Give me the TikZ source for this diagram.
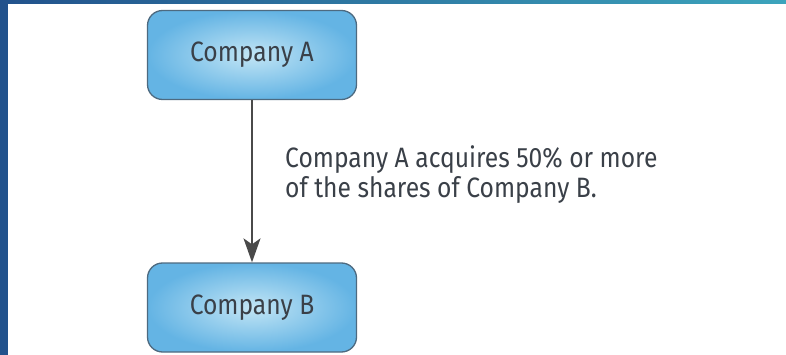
\documentclass[tikz,border=0pt]{standalone}
\usepackage{fontspec}
\setmainfont{Fira Sans}[FakeStretch=0.88]
\usetikzlibrary{arrows.meta}

\definecolor{barleft}{HTML}{22528C}
\definecolor{barright}{HTML}{3CA4BC}
\definecolor{boxouter}{HTML}{64B4E4}
\definecolor{boxinner}{HTML}{C2E5F5}
\definecolor{boxedge}{HTML}{4D6A80}
\definecolor{inkgray}{HTML}{3A4048}
\definecolor{arrowgray}{HTML}{4A4A4A}

\tikzset{
  company/.style={
    draw=boxedge, line width=1.3pt, rounded corners=15pt,
    inner color=boxinner, outer color=boxouter,
    minimum width=209pt, minimum height=89pt,
    font=\fontsize{28}{30}\selectfont, text=inkgray
  },
  link/.style={
    draw=arrowgray, line width=1.6pt,
    -{Stealth[length=24pt, width=17pt, inset=6pt]}
  },
  note/.style={
    font=\fontsize{28}{30}\selectfont, text=inkgray,
    align=left, inner sep=0pt
  }
}

\begin{document}
\begin{tikzpicture}[x=1pt, y=-1pt]
  \useasboundingbox (0,0) rectangle (786,355);
  \fill[white] (0,0) rectangle (786,355);

  % frame strips
  \shade[left color=barleft, right color=barright] (0,0) rectangle (786,3.5);
  \fill[barleft] (0,0) rectangle (7.5,355);

  % the two companies
  \node[company] (a) at (252,55) {Company A};
  \node[company] (b) at (252,307.5) {Company B};

  % acquisition link
  \draw[link] (a) -- (b);

  % the base anchor sits on the last line of the note
  \node[note, anchor=base west] (lbl) at (285,198)
    {Company A acquires 50\% or more\\of the shares of Company B.};
\end{tikzpicture}
\end{document}
